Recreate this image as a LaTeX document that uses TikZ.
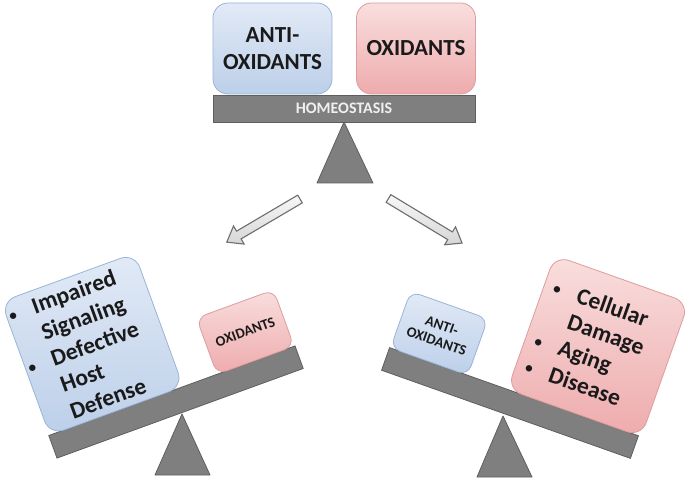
\documentclass[tikz,border=0pt]{standalone}
\usepackage{fontspec}
\setmainfont{Carlito}
\definecolor{bluetop}{HTML}{E2EAF6}
\definecolor{bluebot}{HTML}{BCCFE9}
\definecolor{blueedge}{HTML}{9AB4D8}
\definecolor{pinktop}{HTML}{F9DEDE}
\definecolor{pinkbot}{HTML}{EEABAD}
\definecolor{pinkedge}{HTML}{DE9C9D}
\definecolor{barfill}{HTML}{7F7F7F}
\definecolor{baredge}{HTML}{5E5E5E}
\definecolor{txt}{HTML}{1A1A1A}
\definecolor{arrowedge}{HTML}{6E6E6E}
\newcommand\myBul{\makebox[25pt][l]{\fontsize{15}{15}\selectfont\raisebox{1.5pt}{•}}}
\newcommand\myInd{\hspace*{25pt}}
\tikzset{
 box/.style={draw, line width=0.8pt, rounded corners=15pt, inner sep=0pt, text=txt},
 bluebox/.style={box, draw=blueedge, top color=bluetop, bottom color=bluebot},
 pinkbox/.style={box, draw=pinkedge, top color=pinktop, bottom color=pinkbot},
 smallbox/.style={rounded corners=10pt, minimum width=82pt, minimum height=60pt,
   font=\fontsize{14.5}{16.5}\selectfont\bfseries, align=center},
 bigbox/.style={minimum width=142pt, minimum height=142pt},
 topbox/.style={minimum width=119pt, minimum height=91pt,
   font=\fontsize{23}{27}\selectfont\bfseries, align=center},
 beam/.style={draw=baredge, fill=barfill, line width=0.8pt, inner sep=0pt,
   minimum width=262pt, minimum height=24pt},
 fulcrum/.style={draw=baredge, fill=barfill, line width=0.8pt, line join=round},
 blockarrow/.style={draw=arrowedge, line width=1.1pt, top color=gray!6,
   bottom color=gray!32, line join=miter},
 bigtext/.style={font=\fontsize{23.5}{28}\selectfont\bfseries, text=txt,
   align=left, anchor=west, inner sep=0pt}
}
\begin{document}
\begin{tikzpicture}[x=1pt,y=1pt]
\useasboundingbox (0,0) rectangle (688,480);

% ---------- top balance ----------
\coordinate (tapex) at (344,358);
\coordinate (tb1) at (317,297);
\coordinate (tb2) at (373,297);
\draw[fulcrum] (tapex) -- (tb1) -- (tb2) -- cycle;
\node[beam, minimum height=27pt, text=white!88!gray,
      font=\fontsize{16}{18}\selectfont\bfseries] (tbar) at (344,371.5) {HOMEOSTASIS};
\node[bluebox, topbox] (tanti) at (272.5,431.5) {ANTI-\\OXIDANTS};
\node[pinkbox, topbox] (toxi) at (416,431.5) {OXIDANTS};

% ---------- arrows ----------
\begin{scope}[shift={(300,281)}, rotate=210.5]
  \draw[blockarrow] (0,-4.5) -- (71,-4.5) -- (71,-10.5) -- (85,0) -- (71,10.5)
        -- (71,4.5) -- (0,4.5) -- cycle;
\end{scope}
\begin{scope}[shift={(388.5,281.5)}, rotate=-31.2]
  \draw[blockarrow] (0,-4.5) -- (72,-4.5) -- (72,-10.5) -- (86,0) -- (72,10.5)
        -- (72,4.5) -- (0,4.5) -- cycle;
\end{scope}

% ---------- left balance ----------
\coordinate (lapex) at (182,66);
\coordinate (lb1) at (155,5);
\coordinate (lb2) at (210,5);
\draw[fulcrum] (lapex) -- (lb1) -- (lb2) -- cycle;
\begin{scope}[shift={(176,78)}, rotate=20, transform shape]
  \node[beam] (lbar) at (0,0) {};
  \node[bluebox, bigbox] (lbig) at (-59,83) {};
  \node[bigtext] (lbigtext) at ([xshift=3pt]lbig.west)
    {\myBul Impaired\\\myInd Signaling\\\myBul Defective\\\myInd Host\\\myInd Defense};
  \node[pinkbox, smallbox] (lsmall) at (89,42) {OXIDANTS};
\end{scope}

% ---------- right balance ----------
\coordinate (rapex) at (503,64);
\coordinate (rb1) at (477,3);
\coordinate (rb2) at (532,3);
\draw[fulcrum] (rapex) -- (rb1) -- (rb2) -- cycle;
\begin{scope}[shift={(510,77)}, rotate=-19.5, transform shape]
  \node[beam, minimum width=264pt] (rbar) at (0,0) {};
  \node[bluebox, smallbox] (rsmall) at (-90,42) {ANTI-\\OXIDANTS};
  \node[pinkbox, bigbox] (rbig) at (64,83) {};
  \node[bigtext] (rbigtext) at ([xshift=10pt]rbig.west)
    {\myBul Cellular\\\myInd Damage\\\myBul Aging\\\myBul Disease};
\end{scope}
\end{tikzpicture}
\end{document}
